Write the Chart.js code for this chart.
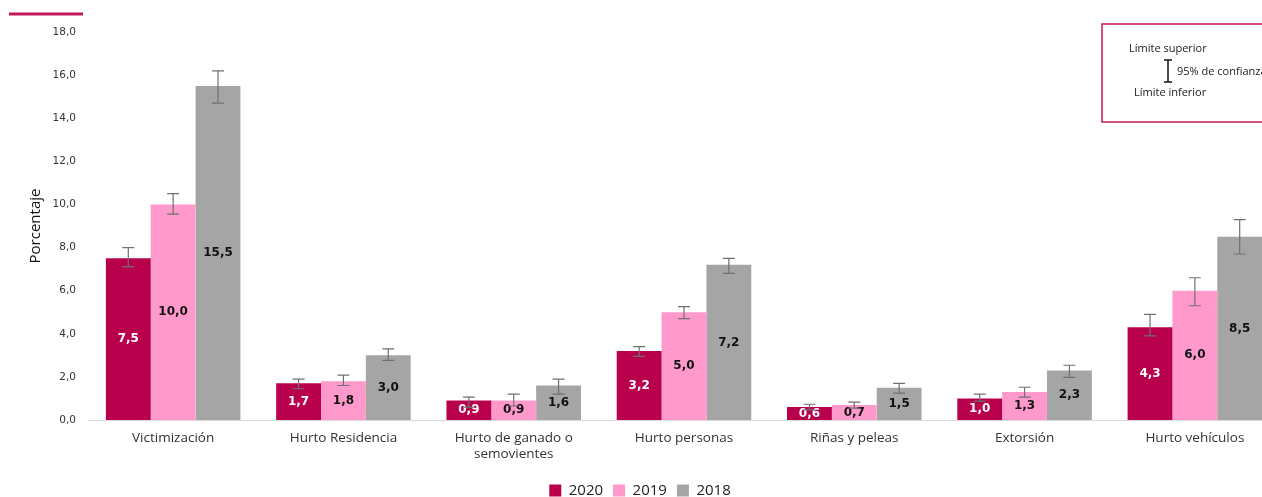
<!DOCTYPE html>
<html>
<head>
<meta charset="utf-8">
<script src="https://cdn.jsdelivr.net/npm/chart.js@4"></script>
<style>
  html, body { margin: 0; padding: 0; background: #fff; overflow: hidden; }
  #marco { width: 1262px; height: 497px; overflow: hidden; position: relative; }
  #lienzo { width: 1300px; height: 508px; position: absolute; left: 0; top: 0; }
</style>
</head>
<body>
<div id="marco">
  <div id="lienzo"><canvas id="grafico"></canvas></div>
</div>
<script>
const categorias = ["Victimización", "Hurto Residencia", ["Hurto de ganado o", "semovientes"], "Hurto personas", "Riñas y peleas", "Extorsión", "Hurto vehículos"];
const anios = ["2020", "2019", "2018"];

const valores2020 = [7.5, 1.7, 0.9, 3.2, 0.6, 1.0, 4.3];
const valores2019 = [10.0, 1.8, 0.9, 5.0, 0.7, 1.3, 6.0];
const valores2018 = [15.5, 3.0, 1.6, 7.2, 1.5, 2.3, 8.5];

// intervalos de confianza (95%)
const inf2020 = [7.1, 1.45, 0.6, 2.95, 0.47, 0.88, 3.9];
const sup2020 = [8.0, 1.9, 1.06, 3.4, 0.73, 1.2, 4.9];
const inf2019 = [9.55, 1.6, 0.65, 4.7, 0.55, 1.06, 5.3];
const sup2019 = [10.5, 2.08, 1.2, 5.26, 0.83, 1.52, 6.6];
const inf2018 = [14.7, 2.77, 1.2, 6.8, 1.25, 1.98, 7.7];
const sup2018 = [16.2, 3.3, 1.9, 7.5, 1.7, 2.54, 9.3];

const ticksY = [0, 2, 4, 6, 8, 10, 12, 14, 16, 18];

const colores = ["#B8004C", "#FF99CC", "#A5A5A5"];
const coloresEtiqueta = ["#ffffff", "#111111", "#111111"];
const inferiores = [inf2020, inf2019, inf2018];
const superiores = [sup2020, sup2019, sup2018];

function coma(v) {
  return v.toFixed(1).replace(".", ",");
}

// barras de error + etiquetas de valor
const pluginBarras = {
  id: "barrasError",
  afterDatasetsDraw(chart) {
    const ctx = chart.ctx;
    const y = chart.scales.y;
    chart.data.datasets.forEach((ds, i) => {
      const meta = chart.getDatasetMeta(i);
      meta.data.forEach((bar, j) => {
        // etiqueta centrada
        ctx.save();
        ctx.font = "bold 12px 'DejaVu Sans'";
        ctx.fillStyle = coloresEtiqueta[i];
        ctx.textAlign = "center";
        ctx.textBaseline = "middle";
        ctx.fillText(coma(ds.data[j]), bar.x, (bar.y + bar.base) / 2);
        ctx.restore();
        // barra de error
        const yTop = y.getPixelForValue(superiores[i][j]);
        const yBot = y.getPixelForValue(inferiores[i][j]);
        ctx.save();
        ctx.strokeStyle = "#707070";
        ctx.lineWidth = 1.2;
        ctx.beginPath();
        ctx.moveTo(bar.x, yTop);
        ctx.lineTo(bar.x, yBot);
        ctx.moveTo(bar.x - 6, yTop);
        ctx.lineTo(bar.x + 6, yTop);
        ctx.moveTo(bar.x - 6, yBot);
        ctx.lineTo(bar.x + 6, yBot);
        ctx.stroke();
        ctx.restore();
      });
    });
  }
};

// adornos: línea superior y cuadro explicativo
const pluginAdornos = {
  id: "adornos",
  afterDraw(chart) {
    const ctx = chart.ctx;
    ctx.save();
    ctx.strokeStyle = "#C2185B";
    ctx.lineWidth = 3;
    ctx.beginPath();
    ctx.moveTo(9, 14);
    ctx.lineTo(83, 14);
    ctx.stroke();

    ctx.lineWidth = 1.5;
    ctx.strokeRect(1102, 24, 190, 98);

    ctx.fillStyle = "#222";
    ctx.font = "11px 'Open Sans'";
    ctx.textBaseline = "middle";
    ctx.fillText("Límite superior", 1129, 49);
    ctx.fillText("95% de confianza", 1177, 72);
    ctx.fillText("Límite inferior", 1134, 93);

    ctx.strokeStyle = "#111";
    ctx.lineWidth = 1.5;
    ctx.beginPath();
    ctx.moveTo(1168, 60);
    ctx.lineTo(1168, 82);
    ctx.moveTo(1164, 60);
    ctx.lineTo(1172, 60);
    ctx.moveTo(1164, 82);
    ctx.lineTo(1172, 82);
    ctx.stroke();
    ctx.restore();
  }
};

const datos = [valores2020, valores2019, valores2018];

new Chart(document.getElementById("grafico"), {
  type: "bar",
  data: {
    labels: categorias,
    datasets: anios.map((a, i) => ({
      label: a,
      data: datos[i],
      backgroundColor: colores[i],
      borderWidth: 0,
      categoryPercentage: 0.79,
      barPercentage: 1.0
    }))
  },
  options: {
    responsive: true,
    maintainAspectRatio: false,
    animation: false,
    layout: { padding: { top: 32, right: 20, left: 0, bottom: 0 } },
    plugins: {
      legend: {
        position: "bottom",
        labels: {
          boxWidth: 12,
          boxHeight: 12,
          padding: 10,
          color: "#222",
          font: { family: "'Open Sans'", size: 15 }
        }
      },
      tooltip: { enabled: false }
    },
    scales: {
      x: {
        afterFit(scale) {
          scale.height = 53;
        },
        grid: { display: false, drawTicks: false },
        border: { color: "#d9d9d9", width: 1 },
        ticks: {
          color: "#333",
          padding: 10,
          maxRotation: 0,
          autoSkip: false,
          font: { family: "'Open Sans'", size: 13.5 }
        }
      },
      y: {
        min: 0,
        max: 18,
        afterBuildTicks(scale) {
          scale.ticks = ticksY.map(v => ({ value: v }));
        },
        afterFit(scale) {
          scale.width = 88;
        },
        grid: { display: false, drawTicks: false },
        border: { display: false },
        title: {
          display: true,
          text: "Porcentaje",
          color: "#111",
          padding: { top: 27, bottom: 0 },
          font: { family: "'Open Sans'", size: 15 }
        },
        ticks: {
          color: "#333",
          padding: 12,
          callback: v => coma(v),
          font: { family: "'DejaVu Sans'", size: 10.5 }
        }
      }
    }
  },
  plugins: [pluginBarras, pluginAdornos]
});
</script>
</body>
</html>
